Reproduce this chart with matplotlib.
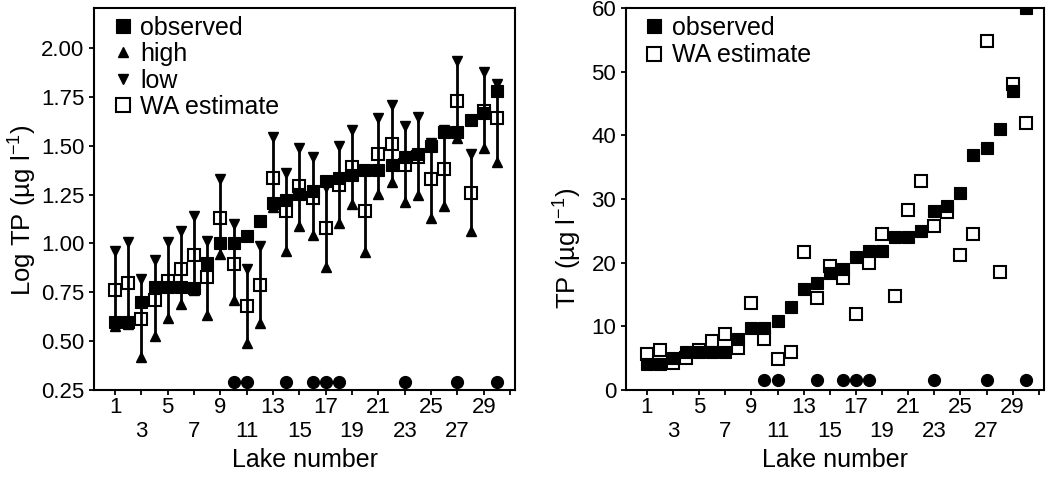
import matplotlib
matplotlib.use("Agg")
import matplotlib.pyplot as plt
import numpy as np

plt.rcParams['font.family'] = ['Liberation Sans', 'DejaVu Sans']
plt.rcParams['mathtext.fontset'] = 'custom'
plt.rcParams['mathtext.rm'] = 'Liberation Sans'
plt.rcParams['mathtext.it'] = 'Liberation Sans'

lakes = list(range(1, 31))

# Left panel (log TP)
obs_log = [0.60, 0.60, 0.70, 0.775, 0.775, 0.775, 0.77, 0.90, 1.00, 1.00,
           1.04, 1.115, 1.205, 1.22, 1.255, 1.27, 1.32, 1.335, 1.35, 1.375,
           1.375, 1.40, 1.44, 1.46, 1.50, 1.57, 1.57, 1.63, 1.67, 1.78]
wa_log = [0.76, 0.80, 0.615, 0.71, 0.81, 0.87, 0.94, 0.83, 1.13, 0.895,
          0.68, 0.785, 1.335, 1.165, 1.295, 1.235, 1.08, 1.30, 1.39, 1.165,
          1.46, 1.51, 1.40, 1.445, 1.33, 1.38, 1.73, 1.26, 1.68, 1.64]
low_log = [0.96, 1.005, 0.82, 0.915, 1.005, 1.065, 1.14, 1.015, 1.33, 1.10,
           0.87, 0.985, 1.545, 1.36, 1.49, 1.445, 1.29, 1.50, 1.58, 1.375,
           1.64, 1.71, 1.60, 1.645, 1.515, 1.58, 1.935, 1.46, 1.88, 1.815]
high_log = [0.575, 0.59, 0.42, 0.525, 0.62, 0.69, 0.76, 0.635, 0.945, 0.71,
            0.49, 0.595, 1.185, 0.96, 1.09, 1.045, 0.88, 1.105, 1.20, 0.955,
            1.255, 1.315, 1.21, 1.25, 1.13, 1.19, 1.54, 1.065, 1.49, 1.415]
flag_lakes = [10, 11, 14, 16, 17, 18, 23, 27, 30]
flag_log = 0.29

# Right panel (TP)
obs_tp = [4.1, 4.1, 5.0, 5.9, 6.0, 5.9, 5.9, 8.0, 9.8, 9.8,
          10.9, 13.0, 15.9, 16.8, 18.3, 19.0, 20.9, 21.9, 21.9, 24.1,
          24.1, 25.0, 28.1, 28.9, 31.0, 36.9, 38.0, 41.0, 46.9, 60.0]
wa_tp = [5.7, 6.35, 4.2, 4.95, 6.35, 7.7, 8.85, 6.6, 13.6, 7.97,
         4.8, 6.0, 21.6, 14.4, 19.5, 17.6, 11.9, 19.9, 24.5, 14.7,
         28.3, 32.9, 25.7, 27.9, 21.2, 24.5, 54.8, 18.5, 48.1, 42.0]
flag_tp = 1.5

xticks = list(range(1, 32, 2))
xticklabels = []
for i, t in enumerate(xticks):
    if t == 31:
        xticklabels.append('')
    elif i % 2 == 0:
        xticklabels.append(str(t))
    else:
        xticklabels.append('\n' + str(t))

fig = plt.figure(figsize=(10.47, 4.78), dpi=100)
ax1 = fig.add_axes([94/1047, 1-390/478, (515-94)/1047, (390-8)/478])
ax2 = fig.add_axes([626/1047, 1-390/478, (1044-626)/1047, (390-8)/478])

FS_TICK = 16
FS_XLAB = 18
FS_YLAB = 18.5
FS_LEG = 18
MS = 9
MS_OPEN = 8.2

# Left panel
ax1.vlines(lakes, high_log, low_log, colors='black', linewidth=2.0, zorder=2)
ax1.plot(lakes, wa_log, linestyle='none', marker='s', markersize=MS_OPEN,
         markerfacecolor='none', markeredgecolor='black', markeredgewidth=1.5,
         label='WA estimate', zorder=3)
ax1.plot(lakes, high_log, linestyle='none', marker='^', markersize=6.5,
         color='black', label='high', zorder=3)
ax1.plot(lakes, low_log, linestyle='none', marker='v', markersize=6.5,
         color='black', label='low', zorder=3)
ax1.plot(lakes, obs_log, linestyle='none', marker='s', markersize=MS,
         markeredgewidth=0.8, color='black', label='observed', zorder=4)
ax1.plot(flag_lakes, [flag_log] * len(flag_lakes), linestyle='none', marker='o',
         markersize=8.5, color='black', zorder=4)

ax1.set_xlim(-0.6, 31.37)
ax1.set_ylim(0.25, 2.205)
ax1.set_yticks([0.25, 0.50, 0.75, 1.00, 1.25, 1.50, 1.75, 2.00])
ax1.set_yticklabels(['0.25', '0.50', '0.75', '1.00', '1.25', '1.50', '1.75', '2.00'])
ax1.set_xticks(xticks)
ax1.set_xticklabels(xticklabels)
ax1.set_xlabel('Lake number', fontsize=FS_XLAB, labelpad=4)
ax1.set_ylabel('Log TP (µg l$^{-1}$)', fontsize=FS_YLAB)
ax1.yaxis.set_label_coords(-0.13, 0.47)

h, l = ax1.get_legend_handles_labels()
order = [l.index('observed'), l.index('high'), l.index('low'), l.index('WA estimate')]
ax1.legend([h[i] for i in order], [l[i] for i in order], loc='upper left',
           bbox_to_anchor=(0.05, 0.98), frameon=False, fontsize=FS_LEG,
           handlelength=0.6, handletextpad=0.4, labelspacing=0.1,
           borderaxespad=0, borderpad=0, markerscale=1.15)

# Right panel
ax2.plot(lakes, wa_tp, linestyle='none', marker='s', markersize=MS_OPEN,
         markerfacecolor='white', markeredgecolor='black', markeredgewidth=1.5,
         label='WA estimate', zorder=3)
ax2.plot(lakes, obs_tp, linestyle='none', marker='s', markersize=MS,
         markeredgewidth=0.8, color='black', label='observed', zorder=4)
ax2.plot(flag_lakes, [flag_tp] * len(flag_lakes), linestyle='none', marker='o',
         markersize=8.5, color='black', zorder=4)
ax2.set_xlim(-0.6, 31.4)
ax2.set_ylim(0, 60)
ax2.set_yticks([0, 10, 20, 30, 40, 50, 60])
ax2.set_xticks(xticks)
ax2.set_xticklabels(xticklabels)
ax2.set_xlabel('Lake number', fontsize=FS_XLAB, labelpad=4)
ax2.set_ylabel('TP (µg l$^{-1}$)', fontsize=FS_YLAB)
ax2.yaxis.set_label_coords(-0.1, 0.37)
h, l = ax2.get_legend_handles_labels()
ax2.legend([h[1], h[0]], [l[1], l[0]], loc='upper left',
           bbox_to_anchor=(0.05, 0.98), frameon=False, fontsize=FS_LEG,
           handlelength=0.6, handletextpad=0.4, labelspacing=0.15,
           borderaxespad=0, borderpad=0, markerscale=1.15)

for ax in (ax1, ax2):
    for sp in ax.spines.values():
        sp.set_linewidth(1.5)
    ax.tick_params(direction='out', length=3.5, width=1.3, labelsize=FS_TICK)
    ax.tick_params(axis='y', pad=3.5)
    ax.tick_params(axis='x', pad=1.5)

fig.savefig('out.png', dpi=100)
